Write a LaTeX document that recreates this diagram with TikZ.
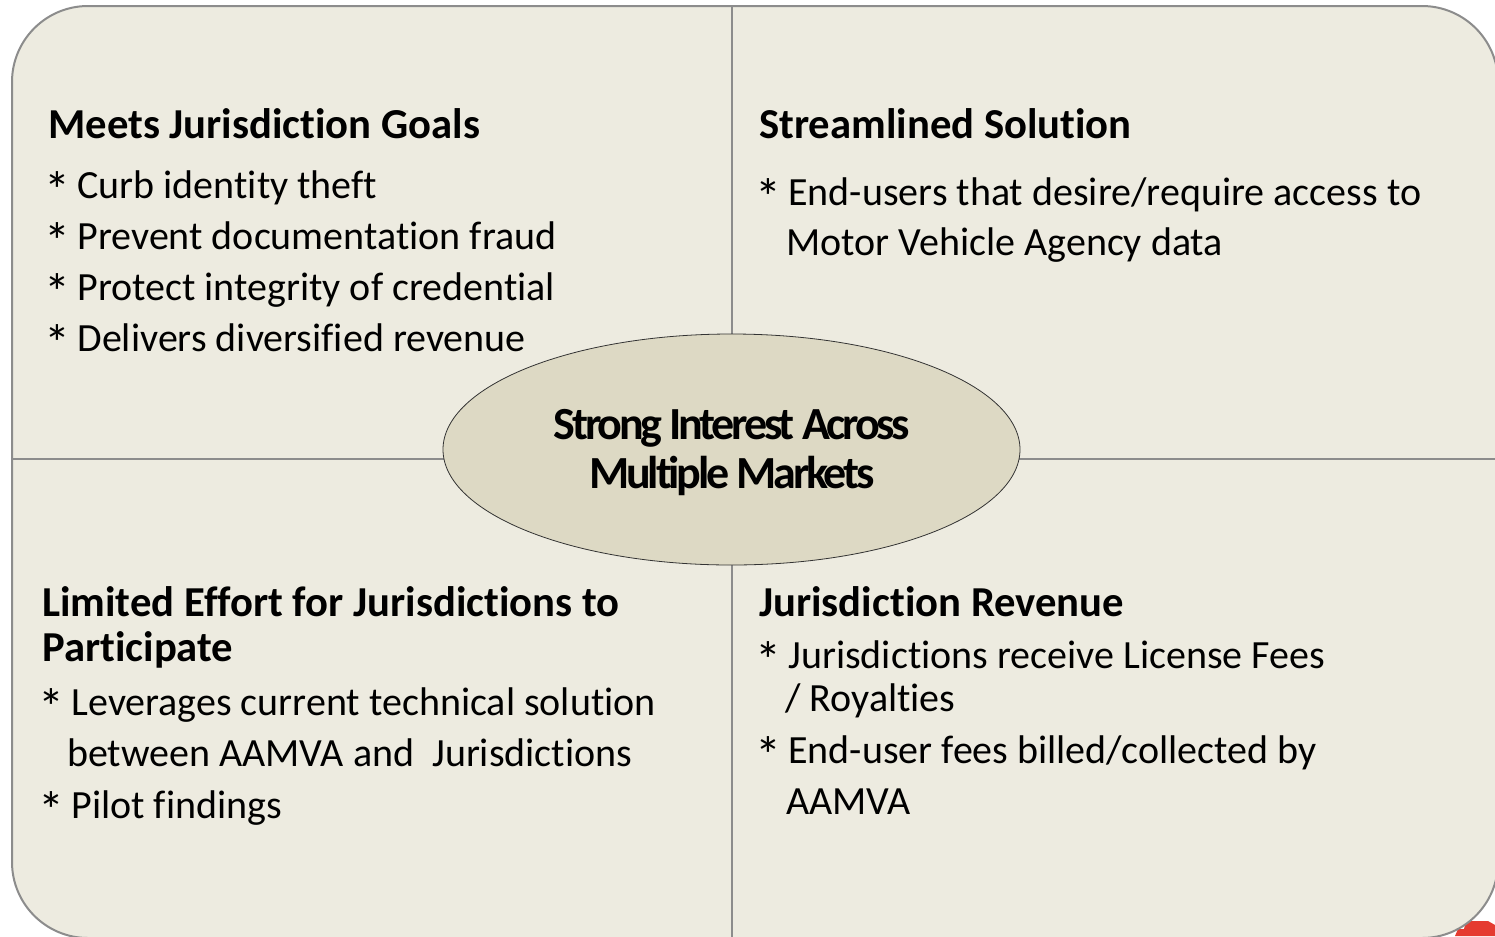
\documentclass[tikz,border=0pt]{standalone}
\usepackage{fontspec}
\setmainfont{Carlito}[Ligatures=NoCommon]
\newfontfamily\corefont{Carlito}[LetterSpace=-7,Ligatures=NoCommon]
\usetikzlibrary{shapes.geometric}
\definecolor{bgtan}{HTML}{EDEBE0}
\definecolor{coretan}{HTML}{DDD9C4}
\definecolor{linegray}{HTML}{8C8C8C}
\definecolor{slidered}{HTML}{E53B30}
\newcommand\bulstar{\makebox[0.73em][l]{\hspace{-0.1em}\raisebox{-0.27em}{\scalebox{1.3}{*}}}}
\begin{document}
\begin{tikzpicture}[x=0.75pt,y=-0.75pt,
  head/.style={anchor=base west,inner sep=0pt,font=\fontsize{32}{38}\selectfont\bfseries},
  body/.style={anchor=base west,inner sep=0pt,font=\fontsize{30}{36}\selectfont},
  coretext/.style={anchor=base,inner sep=0pt,font=\corefont\fontsize{34.5}{40}\selectfont\bfseries},
  divider/.style={draw=linegray,line width=1.2pt}]
\useasboundingbox (0,0) rectangle (1495,936);
\fill[white] (0,0) rectangle (1495,936);
% red fragment at the lower right corner
\fill[slidered] (1455,936) -- (1458,929) -- (1464,929) -- (1466,921) -- (1488,921) -- (1495,925) -- (1495,936) -- cycle;
% panel
\node (panel) [draw=linegray, fill=bgtan, line width=1.5pt, rounded corners=57pt,
  minimum width=1114.5pt, minimum height=699pt, inner sep=0pt] at (755,472) {};
% dividers
\coordinate (vtop) at (732,6);
\coordinate (vbot) at (732,938);
\coordinate (hleft) at (12,459);
\coordinate (hright) at (1498,459);
\draw[divider] (vtop) -- (vbot);
\draw[divider] (hleft) -- (hright);
% centre ellipse
\node (core) [ellipse, draw=black!80, line width=0.6pt, fill=coretan,
  minimum width=432.75pt, minimum height=173.25pt, inner sep=0pt] at (731.5,449.5) {};
\node (core1) [coretext] at (732,439) {Strong Interest Across};
\node (core2) [coretext] at (732,488) {Multiple Markets};
% top left
\node (tlh) [head] at (48,138) {Meets Jurisdiction Goals};
\node (tl1) [body] at (48,198) {\bulstar Curb identity theft};
\node (tl2) [body] at (48,249) {\bulstar Prevent documentation fraud};
\node (tl3) [body] at (48,300) {\bulstar Protect integrity of credential};
\node (tl4) [body] at (48,351) {\bulstar Delivers diversified revenue};
% top right
\node (trh) [head] at (759,138) {Streamlined Solution};
\node (tr1) [body] at (759,205) {\bulstar End-users that desire/require access to};
\node (tr2) [body] at (786,255) {Motor Vehicle Agency data};
% bottom left
\node (blh1) [head] at (42,616) {Limited Effort for Jurisdictions to};
\node (blh2) [head] at (42,661) {Participate};
\node (bl1) [body] at (42,715) {\bulstar Leverages current technical solution};
\node (bl2) [body] at (67,766) {between AAMVA and\ \ Jurisdictions};
\node (bl3) [body] at (42,818) {\bulstar Pilot findings};
% bottom right
\node (brh) [head] at (759,616) {Jurisdiction Revenue};
\node (br1) [body] at (759,668) {\bulstar Jurisdictions receive License Fees};
\node (br2) [body] at (785,711) {/ Royalties};
\node (br3) [body] at (759,763) {\bulstar End-user fees billed/collected by};
\node (br4) [body] at (786,814) {AAMVA};
\end{tikzpicture}
\end{document}
